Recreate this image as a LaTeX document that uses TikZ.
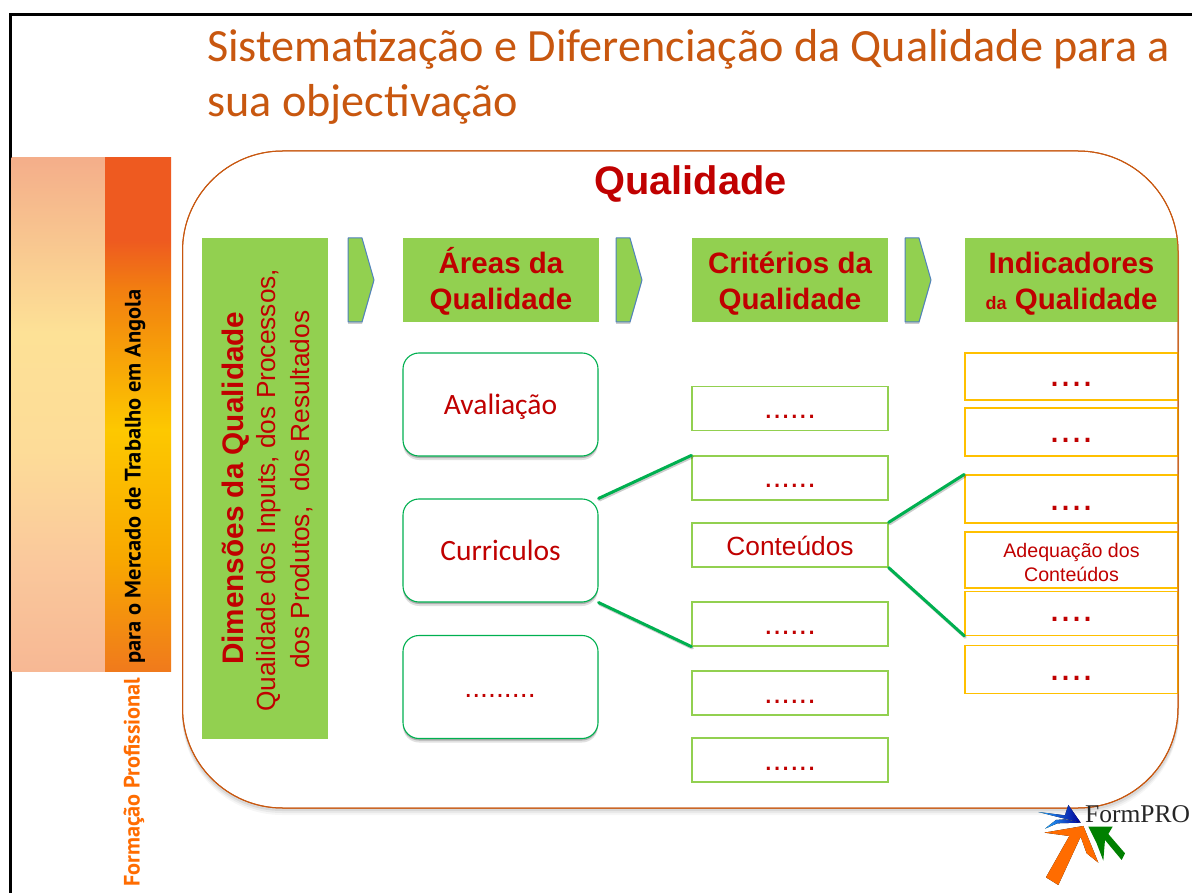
\documentclass[tikz,border=0pt]{standalone}
\usepackage{fontspec}
\setmainfont{Liberation Sans}
\newfontfamily\carl{Carlito}
\newfontfamily\ptsans{PT Sans}
\newfontfamily\lserif{Liberation Serif}
\definecolor{qred}{HTML}{C00000}
\definecolor{qgreen}{HTML}{92D050}
\definecolor{qteal}{HTML}{00B050}
\definecolor{qamber}{HTML}{FFC000}
\definecolor{qorange}{HTML}{C8570F}
\definecolor{qblue}{HTML}{4F81BD}
\newcommand{\fs}[1]{\fontsize{#1}{#1}\selectfont}
\definecolor{leftA}{HTML}{F7B894}\definecolor{leftB}{HTML}{FAC89C}\definecolor{leftC}{HTML}{FDDC98}\definecolor{leftD}{HTML}{FDE196}\definecolor{leftE}{HTML}{F4AE8A}
\definecolor{rightA}{HTML}{F07A1C}\definecolor{rightB}{HTML}{F8A800}\definecolor{rightC}{HTML}{FDC800}\definecolor{rightD}{HTML}{F28010}\definecolor{rightE}{HTML}{EE5A20}
\pgfdeclareverticalshading{leftstrip}{100bp}{color(0bp)=(leftA);color(25bp)=(leftA);color(35.5bp)=(leftB);color(46.5bp)=(leftC);color(58bp)=(leftD);color(75bp)=(leftE);color(100bp)=(leftE)}
\pgfdeclareverticalshading{rightstrip}{100bp}{color(0bp)=(rightA);color(25bp)=(rightA);color(36bp)=(rightB);color(48.5bp)=(rightC);color(62bp)=(rightD);color(67bp)=(rightE);color(100bp)=(rightE)}
\usetikzlibrary{shadows}
\newcommand{\headstrut}{\rule{0pt}{29pt}}
\tikzset{
  headbox/.style={fill=qgreen,text=qred,font=\bfseries\fontsize{29.5}{36}\selectfont,align=center,minimum width=196pt,minimum height=84pt,inner sep=0pt},
  areabox/.style={draw=qteal,fill=white,rounded corners=16pt,line width=1.1pt,minimum width=195pt,minimum height=103pt,inner sep=0pt,
    drop shadow={shadow xshift=0pt,shadow yshift=-4pt,opacity=.12,fill=black},
    drop shadow={shadow xshift=0pt,shadow yshift=-2pt,opacity=.22,fill=black}},
  arealabel/.style={text=qred,font=\carl\fs{29.5},anchor=base,inner sep=0pt},
  critbox/.style={draw=qgreen,fill=white,line width=1.2pt,minimum width=196pt,minimum height=44pt,inner sep=0pt},
  indbox/.style={draw=qamber,fill=white,line width=1.3pt,minimum width=213pt,inner sep=0pt},
  linkline/.style={draw=qteal,line width=3pt,line cap=round},
  linkshade/.style={draw=black,opacity=.2,line width=3pt,line cap=round,transform canvas={xshift=1pt,yshift=-1.5pt}},
  chevbox/.style={fill=qgreen,draw=qblue,line width=1pt,line join=round},
  dotlabel/.style={text=qred,anchor=base,inner sep=0pt},
}
\begin{document}
\begin{tikzpicture}[x=1pt,y=-1pt]
\useasboundingbox (0,0) rectangle (1192,893);
\fill[white] (0,0) rectangle (1192,893);
% slide frame
\draw[black,line width=2.4pt] (10.5,893) -- (10.5,14.5) -- (1192,14.5);
% sidebar
\path[shading=leftstrip,shading angle=0] (11.5,158) rectangle (105,671);
\path[shading=rightstrip,shading angle=0] (105,158) rectangle (171,671);
\node[rotate=90,anchor=west,inner sep=0pt] (sb1) at (135,664) {\resizebox{374pt}{!}{\ptsans\bfseries\fs{24}para o Mercado de Trabalho em Angola}};
\node[rotate=90,anchor=west,inner sep=0pt,text=orange!85!red] (sb2) at (134,887) {\resizebox{209pt}{!}{\ptsans\bfseries\fs{24}Formação Profissional}};
% title
\node[anchor=base west,inner sep=0pt,text=qorange,font=\carl\fs{46.2}] (t1) at (207,62) {Sistematização e Diferenciação da Qualidade para a};
\node[anchor=base west,inner sep=0pt,text=qorange,font=\carl\fs{46.2}] (t2) at (207,117) {sua objectivação};
% big rounded frame with shadow
\foreach \d/\o in {7/.035,5/.05,3/.07}{
  \fill[black,opacity=\o,rounded corners=100pt] (182,151+\d) rectangle (1179,808+\d);
}
\draw[qorange,fill=white,line width=1pt,rounded corners=100pt] (182.5,151) rectangle (1178,808);
\node[text=qred,font=\bfseries\fs{39.8},inner sep=0pt] (q) at (690.5,184) {Qualidade};
% dimensions
\node[fill=qgreen,minimum width=126pt,minimum height=501pt,inner sep=0pt] (dim) at (265,488.5) {};
\node[rotate=90,anchor=base west,inner sep=0pt,text=qred,font=\bfseries\fs{29.7}] (dim1) at (243,665) {Dimensões da Qualidade};
\node[rotate=90,anchor=base west,inner sep=0pt,text=qred,font=\fs{26.3}] (dim2) at (275,712) {Qualidade dos Inputs, dos Processos,};
\node[rotate=90,anchor=base west,inner sep=0pt,text=qred,font=\fs{26.3}] (dim3) at (309,669) {dos Produtos,\ \ dos Resultados};
% chevrons
\foreach \a in {348,616,905}{
  \fill[black,opacity=.2] (\a,240) -- (\a+14,240) -- (\a+26,282) -- (\a+14,324) -- (\a,324) -- cycle;
  \draw[chevbox] (\a,238) -- (\a+14,238) -- (\a+26,280) -- (\a+14,322) -- (\a,322) -- cycle;
}
% headers
\node[headbox] (h1) at (501,280) {\headstrut Áreas da\\Qualidade};
\node[headbox] (h2) at (790,280) {\headstrut Critérios da\\Qualidade};
\node[headbox,minimum width=213pt] (h3) at (1071.5,280) {\headstrut Indicadores\\{\fs{18}da} Qualidade};
% areas
\node[areabox] (a1) at (500.5,404.5) {};
\node[areabox] (a2) at (500.5,550.5) {};
\node[areabox] (a3) at (500.5,687) {};
\node[arealabel] (a1t) at (500.5,414) {Avaliação};
\node[arealabel] (a2t) at (500.5,560) {Curriculos};
\node[dotlabel,font=\fs{28.5}] (a3t) at (500,697) {.........};
% criteria
\node[critbox] (k1) at (790,408.5) {};
\node[critbox] (k2) at (790,478) {};
\node[critbox] (k3) at (790,545) {};
\node[critbox] (k4) at (790,624) {};
\node[critbox] (k5) at (790,693) {};
\node[critbox] (k6) at (790,760) {};
\node[dotlabel,font=\fs{26.3}] (k3t) at (790,555) {Conteúdos};
\foreach \y in {418,487,634,703,770}{
  \node[dotlabel,font=\fs{31}] at (790,\y) {......};
}
% indicators
\node[indbox,minimum height=47pt] (i1) at (1071.5,376.5) {};
\node[indbox,minimum height=48pt] (i2) at (1071.5,432) {};
\node[indbox,minimum height=47.5pt,line width=1.6pt] (i3) at (1071.5,499) {};
\node[indbox,minimum height=56pt] (i4) at (1071.5,560) {};
\node[text=qred,font=\fs{19.6},align=center,inner sep=0pt] (i4t) at (1071.5,562.5) {Adequação dos\\[3.5pt]Conteúdos};
\node[indbox,minimum height=43.5pt] (i5) at (1071.5,613.5) {};
\node[indbox,minimum height=47.5pt] (i6) at (1071.5,669.5) {};
\foreach \y in {386.7,442.3,510,621.7,680}{
  \node[dotlabel,font=\fs{39.6}] at (1071.5,\y) {....};
}
% frame line over the boxes it cuts
\draw[qorange,line width=1pt,rounded corners=100pt] (182.5,151) rectangle (1178,808);
% connectors
\draw[linkshade] (a2.north east) -- (k2.north west);
\draw[linkshade] (a2.south east) -- (k4.south west);
\draw[linkshade] (k3.north east) -- (i3.north west);
\draw[linkshade] (k3.south east) -- (i5.south west);
\draw[linkline] (a2.north east) -- (k2.north west);
\draw[linkline] (a2.south east) -- (k4.south west);
\draw[linkline] (k3.north east) -- (i3.north west);
\draw[linkline] (k3.south east) -- (i5.south west);
% logo
\begin{scope}[shift={(950,690)},x=.3333pt,y=-.3333pt]
\fill[left color=cyan!60!blue!85!white,right color=blue!60!black] (265,366) -- (345,376) -- (355,345) -- (392,398) -- (340,385) -- cycle;
\fill[left color=cyan!60!blue!85!white,right color=blue!60!black] (285,416) -- (318,390) -- (345,388) -- (392,398) -- (322,400) -- cycle;
\fill[left color=orange!85!red,middle color=yellow!85!orange,right color=orange!85!red] (283,428) -- (400,408) -- (445,518) -- (410,490) -- (392,440) -- (325,585) -- (288,562) -- (358,438) -- cycle;
\fill[green!50!black] (415,410) -- (488,410) -- (475,432) -- (525,490) -- (515,510) -- (465,450) -- (460,512) -- (440,460) -- cycle;
\node[anchor=base west,inner sep=0pt,text=black!85,font=\lserif\fs{25.5}] (fp) at (405,398) {FormPRO};
\end{scope}
\end{tikzpicture}
\end{document}
